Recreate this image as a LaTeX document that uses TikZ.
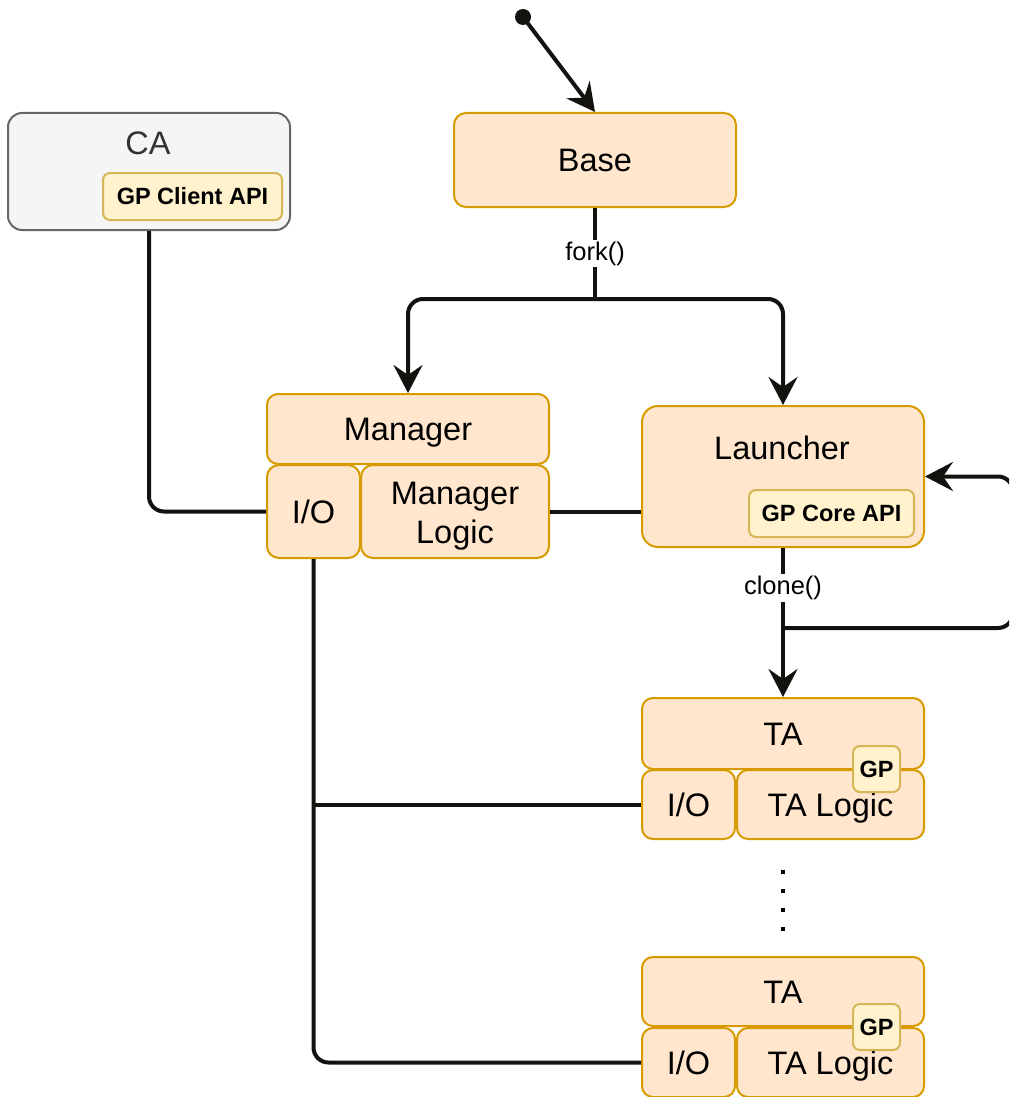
\documentclass[tikz,border=0pt]{standalone}
\usepackage{fontspec}
\setmainfont{Liberation Sans}
\usetikzlibrary{arrows.meta}
\definecolor{boxfill}{HTML}{FFE6CC}
\definecolor{boxline}{HTML}{D79B00}
\definecolor{gpfill}{HTML}{FFF2CC}
\definecolor{gpline}{HTML}{D6B656}
\definecolor{cafill}{HTML}{F5F5F5}
\definecolor{caline}{HTML}{666666}
\definecolor{catext}{HTML}{333333}
\definecolor{wire}{HTML}{14120E}
\tikzset{
  bigfont/.style={font=\fontsize{32.5}{39}\selectfont},
  capcenter/.style={text height=23.3pt, text depth=0pt},
  smallcap/.style={text height=16.9pt, text depth=0pt},
  procbox/.style={draw=boxline, fill=boxfill, line width=2pt, rounded corners=12pt,
    inner sep=0pt, align=center, bigfont, capcenter},
  gpbox/.style={draw=gpline, fill=gpfill, line width=2pt, rounded corners=7pt,
    inner sep=0pt, font=\fontsize{23.5}{27}\selectfont\bfseries, smallcap},
  cabox/.style={draw=caline, fill=cafill, line width=2pt, rounded corners=14pt, inner sep=0pt},
  conn/.style={draw=wire, line width=4pt},
  headtip/.style={-{Stealth[length=28pt,width=29pt,inset=10pt]}},
  lbl/.style={fill=white, inner sep=2pt, font=\fontsize{25.5}{30}\selectfont, text=black},
}
\begin{document}
\begin{tikzpicture}[x=1pt,y=-1pt]
\useasboundingbox (0,0) rectangle (1009,1097);
\clip (0,0) rectangle (1009,1097);

% client application
\node[cabox, minimum width=282pt, minimum height=117pt] (ca) at (149,171.5) {};
\node[bigfont, capcenter, text=catext, inner sep=0pt] (catitle) at (148,143) {CA};
\node[gpbox, minimum width=179pt, minimum height=47pt] (gpclient) at (192.5,196.5) {GP Client API};

% base process
\node[procbox, minimum width=282pt, minimum height=94pt] (base) at (595,160) {Base};

% manager process
\node[procbox, minimum width=282pt, minimum height=70pt, rounded corners=11pt] (mgr) at (408,429) {Manager};
\node[procbox, minimum width=93pt, minimum height=93pt] (mgrio) at (313.5,511.5) {I/O};
\node[procbox, minimum width=188pt, minimum height=93pt] (mgrlogic) at (455,511.5) {};
\node[bigfont, align=center, inner sep=0pt] (mgrlogictext) at (455,516) {Manager\\Logic};

% launcher process
\node[procbox, minimum width=282pt, minimum height=141pt, rounded corners=16pt] (launcher) at (783,476.5) {};
\node[bigfont, capcenter, inner sep=0pt] (launchertitle) at (782,448) {Launcher};
\node[gpbox, minimum width=165pt, minimum height=47pt] (gpcore) at (831.5,513.5) {GP Core API};

% first trusted application
\node[procbox, minimum width=282pt, minimum height=71pt, rounded corners=11pt] (ta1) at (783,733.5) {TA};
\node[procbox, minimum width=93pt, minimum height=69pt, rounded corners=11pt] (ta1io) at (688.5,804.5) {I/O};
\node[procbox, minimum width=187pt, minimum height=69pt, rounded corners=11pt] (ta1logic) at (830.5,804.5) {TA Logic};
\node[gpbox, minimum width=47pt, minimum height=46pt] (gp1) at (876.5,769) {GP};

% last trusted application
\node[procbox, minimum width=282pt, minimum height=69pt, rounded corners=11pt] (ta2) at (783,991.5) {TA};
\node[procbox, minimum width=93pt, minimum height=69pt, rounded corners=11pt] (ta2io) at (688.5,1062.5) {I/O};
\node[procbox, minimum width=187pt, minimum height=69pt, rounded corners=11pt] (ta2logic) at (830.5,1062.5) {TA Logic};
\node[gpbox, minimum width=47pt, minimum height=46pt] (gp2) at (876.5,1027) {GP};

% ellipsis between trusted applications
\coordinate (dotstop) at (783,870);
\coordinate (dotsbot) at (783,932);
\draw[draw=black, line width=4pt, dash pattern=on 4pt off 15pt] (dotstop) -- (dotsbot);

% entry point
\coordinate (start) at (523,17);
\fill[wire] (start) circle (8pt);
\draw[conn, headtip] (start) -- (base.north);

% fork into manager and launcher
\coordinate (forkpt) at (595,299);
\draw[conn] (base.south) -- node[lbl] {fork()} (forkpt);
\draw[conn, headtip, rounded corners=15pt] (forkpt) -| (mgr.north);
\draw[conn, headtip, rounded corners=15pt] (forkpt) -| (launcher.north);

% client to manager I/O
\draw[conn, rounded corners=15pt] (ca.south) -- (ca.south |- mgrio.west) -- (mgrio.west);

% manager logic to launcher
\draw[conn] (mgrlogic.east) -- (launcher.west |- mgrlogic.east);

% clone() into the trusted application, with the loop back to the launcher
\coordinate (split) at (launcher.south |- 0,628);
\coordinate (loopright) at (1013,628);
\draw[conn, headtip] (launcher.south) -- node[lbl, pos=0.27] {clone()} (ta1.north);
\draw[conn, headtip, rounded corners=15pt] (split) -- (loopright) |- (launcher.east);

% manager I/O bus to every trusted application
\coordinate (busjoin) at (mgrio.south |- ta1io.west);
\draw[conn, rounded corners=15pt] (mgrio.south) -- (mgrio.south |- ta2io.west) -- (ta2io.west);
\draw[conn] (busjoin) -- (ta1io.west);
\end{tikzpicture}
\end{document}
